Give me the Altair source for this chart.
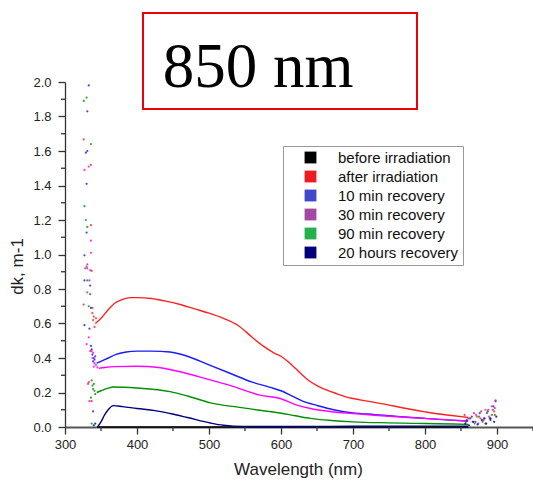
import altair as alt
import pandas as pd

# ---------------- data ----------------
SERIES = ["before irradiation", "after irradiation", "10 min recovery",
          "30 min recovery", "90 min recovery", "20 hours recovery"]
LEGEND_COLORS = ["#000000", "#ed1c24", "#3f48cc", "#a349a4", "#22b14c", "#00007f"]
CURVE_COLORS = ["#000000", "#ff2020", "#1a1aff", "#ff00ff", "#009000", "#000080"]

BEFORE_WL = [345, 400, 500, 600, 700, 800, 860]
BEFORE_DK = [0.0, 0.0, 0.0, 0.0, 0.0, 0.0, 0.0]

AFTER_WL = [342, 345, 350, 360, 370, 380, 390, 400, 420, 440, 460, 480, 500, 520, 540,
            560, 575, 590, 600, 610, 620, 630, 640, 650, 660, 673, 690, 700, 720, 747,
            770, 800, 820, 840, 860]
AFTER_DK = [0.60, 0.61, 0.63, 0.68, 0.72, 0.74, 0.75, 0.75, 0.745, 0.73, 0.71, 0.685, 0.66,
            0.63, 0.59, 0.52, 0.47, 0.43, 0.41, 0.378, 0.34, 0.30, 0.265, 0.24, 0.22, 0.20,
            0.175, 0.165, 0.15, 0.13, 0.11, 0.088, 0.075, 0.065, 0.055]

MIN10_WL = [344, 350, 360, 370, 385, 400, 420, 446, 470, 500, 530, 560, 585, 600, 615,
            630, 650, 673, 700, 730, 766, 800, 836, 860]
MIN10_DK = [0.37, 0.38, 0.40, 0.42, 0.435, 0.44, 0.44, 0.435, 0.41, 0.36, 0.31, 0.26,
            0.23, 0.21, 0.18, 0.15, 0.125, 0.10, 0.082, 0.072, 0.06, 0.05, 0.04, 0.035]

MIN30_WL = [347, 355, 370, 400, 430, 460, 500, 530, 571, 599, 620, 641, 673, 700, 730,
            766, 800, 836, 860]
MIN30_DK = [0.34, 0.345, 0.35, 0.352, 0.345, 0.32, 0.275, 0.24, 0.185, 0.165, 0.13,
            0.107, 0.087, 0.078, 0.068, 0.058, 0.05, 0.04, 0.035]

MIN90_WL = [344, 350, 360, 367, 400, 446, 470, 502, 540, 571, 599, 620, 641, 670, 700,
            750, 800, 840, 860]
MIN90_DK = [0.20, 0.21, 0.225, 0.232, 0.226, 0.205, 0.18, 0.14, 0.115, 0.097, 0.081,
            0.065, 0.05, 0.038, 0.03, 0.024, 0.02, 0.017, 0.015]

H20_WL = [345, 350, 355, 360, 367, 380, 400, 425, 446, 470, 502, 520, 534, 560, 600,
          700, 800, 860]
H20_DK = [0.0, 0.03, 0.07, 0.10, 0.124, 0.118, 0.107, 0.095, 0.078, 0.055, 0.023, 0.01,
          0.005, 0.003, 0.003, 0.004, 0.005, 0.005]

# scattered noisy points at both spectral ends
AFTER_NOISE_WL = [326, 336, 336, 331, 337, 326, 338, 335, 333, 337, 339, 340, 341, 338, 343,
                  855, 862, 868, 872, 878, 883, 888, 893, 897, 880]
AFTER_NOISE_DK = [1.667, 1.52, 1.17, 0.943, 0.905, 0.71, 0.69, 0.44, 0.26, 0.15, 0.62, 0.64,
                  0.58, 0.66, 0.63, 0.07, 0.05, 0.08, 0.06, 0.09, 0.05, 0.10, 0.07, 0.11, 0.03]
MIN10_NOISE_WL = [333, 331, 331, 329, 330, 330, 327, 327, 335, 336, 327, 334, 339, 337, 338,
                  340, 341, 342, 336, 339, 858, 865, 870, 876, 882, 887, 891, 895, 898, 884]
MIN10_NOISE_DK = [1.98, 1.83, 1.60, 1.59, 1.41, 1.127, 0.995, 0.85, 0.82, 0.69, 0.59, 0.57,
                  0.09, 0.45, 0.42, 0.40, 0.39, 0.41, 0.47, 0.38, 0.04, 0.06, 0.03, 0.08,
                  0.05, 0.09, 0.04, 0.12, 0.15, 0.02]
MIN30_NOISE_WL = [333, 327, 336, 336, 330, 328, 335, 334, 331, 333, 330, 337, 332, 334, 338,
                  339, 341, 343, 340, 345, 860, 866, 871, 877, 884, 889, 893, 896, 898, 874]
MIN30_NOISE_DK = [1.51, 1.49, 1.08, 1.01, 0.93, 0.92, 0.91, 0.85, 0.78, 0.52, 0.48, 0.44,
                  0.25, 0.15, 0.40, 0.43, 0.37, 0.36, 0.35, 0.345, 0.05, 0.03, 0.07, 0.05,
                  0.10, 0.06, 0.12, 0.09, 0.155, 0.02]
MIN90_NOISE_WL = [330, 326, 336, 327, 329, 331, 331, 331, 335, 333, 337, 338, 339, 340, 341,
                  342, 337, 336, 857, 863, 869, 875, 881, 886, 890, 894, 897]
MIN90_NOISE_DK = [1.91, 1.89, 1.64, 1.28, 1.20, 1.16, 0.92, 0.85, 0.77, 0.70, 0.27, 0.24,
                  0.22, 0.25, 0.21, 0.19, 0.02, 0.17, 0.03, 0.05, 0.02, 0.06, 0.04, 0.08,
                  0.05, 0.10, 0.07]
H20_NOISE_WL = [340, 342, 856, 861, 867, 873, 879, 885, 891, 896, 899]
H20_NOISE_DK = [0.01, 0.02, 0.02, 0.01, 0.03, 0.015, 0.04, 0.02, 0.05, 0.03, 0.06]

X_MAJOR = [300, 400, 500, 600, 700, 800, 900]
X_MINOR = [350, 450, 550, 650, 750, 850, 950]
Y_MAJOR = [0.0, 0.2, 0.4, 0.6, 0.8, 1.0, 1.2, 1.4, 1.6, 1.8, 2.0]
Y_MINOR = [0.1, 0.3, 0.5, 0.7, 0.9, 1.1, 1.3, 1.5, 1.7, 1.9]
TITLE_TEXT = "850 nm"

# ---------------- tables ----------------
def frame(i, wl, dk):
    return pd.DataFrame({"series": SERIES[i], "col": CURVE_COLORS[i], "wl": wl, "dk": dk})

curves = pd.concat([
    frame(0, BEFORE_WL, BEFORE_DK),
    frame(1, AFTER_WL, AFTER_DK),
    frame(2, MIN10_WL, MIN10_DK),
    frame(3, MIN30_WL, MIN30_DK),
    frame(4, MIN90_WL, MIN90_DK),
    frame(5, H20_WL, H20_DK),
], ignore_index=True)

noise = pd.concat([
    frame(1, AFTER_NOISE_WL, AFTER_NOISE_DK),
    frame(2, MIN10_NOISE_WL, MIN10_NOISE_DK),
    frame(3, MIN30_NOISE_WL, MIN30_NOISE_DK),
    frame(4, MIN90_NOISE_WL, MIN90_NOISE_DK),
    frame(5, H20_NOISE_WL, H20_NOISE_DK),
], ignore_index=True)

# legend carrier points: placed where the white title box covers them
legend_df = pd.DataFrame({"label": SERIES, "wl": [600] * 6, "dk": [1.95] * 6})

FONT = "Liberation Sans"
W, H = 468, 345

xscale = alt.Scale(domain=[300, 950], nice=False, zero=False)
yscale = alt.Scale(domain=[0, 2], nice=False)
legend_scale = alt.Scale(domain=SERIES, range=LEGEND_COLORS)

x_axis = alt.Axis(values=X_MAJOR, format="d", grid=False, tickSize=7, tickWidth=1.3,
                  tickColor="#333", domainColor="#555", domainWidth=2, labelFlush=False,
                  labelFont=FONT, labelFontSize=13, labelColor="#222", labelPadding=4,
                  title="Wavelength (nm)", titleFont=FONT, titleFontSize=17,
                  titleFontWeight="normal", titleColor="#222", titleX=233, titleY=42,
                  titleBaseline="middle")
y_axis = alt.Axis(values=Y_MAJOR, format=".1f", grid=False, tickSize=7, tickWidth=1.3,
                  tickColor="#333", domainColor="#333", domainWidth=1.3, labelFlush=False,
                  labelFont=FONT, labelFontSize=13, labelColor="#222", labelPadding=7,
                  title="dk, m-1", titleFont=FONT, titleFontSize=17,
                  titleFontWeight="normal", titleColor="#222", titleX=-48, titleY=184,
                  titleAngle=270, titleBaseline="middle", titleAlign="center")

X = alt.X("wl:Q", scale=xscale, axis=x_axis)
Y = alt.Y("dk:Q", scale=yscale, axis=y_axis)

lines = alt.Chart(curves).mark_line(strokeWidth=1.4, interpolate="monotone").encode(
    x=X, y=Y, stroke=alt.Stroke("col:N", scale=None), detail="series:N")

points = alt.Chart(noise).mark_circle(size=5, opacity=0.8).encode(
    x=X, y=Y, fill=alt.Fill("col:N", scale=None))

legend_layer = alt.Chart(legend_df).mark_square(size=4).encode(
    x=X, y=Y,
    color=alt.Color("label:N", scale=legend_scale, sort=SERIES,
                    legend=alt.Legend(title=None, orient="none", legendX=218, legendY=64,
                                      strokeColor="#999", fillColor="white", padding=4,
                                      symbolType="square", symbolSize=140, symbolOffset=16,
                                      symbolStrokeWidth=0, symbolOpacity=1, labelOffset=20,
                                      labelFont=FONT, labelFontSize=15, labelColor="#111",
                                      rowPadding=3)))

xminor = alt.Chart(pd.DataFrame({"wl": X_MINOR})).mark_rule(color="#333", strokeWidth=1.3).encode(
    x=X, y=alt.value(H), y2=alt.value(H + 4))
yminor = alt.Chart(pd.DataFrame({"dk": Y_MINOR})).mark_rule(color="#333", strokeWidth=1.3).encode(
    y=Y, x=alt.value(0), x2=alt.value(-4))

one = pd.DataFrame({"t": [TITLE_TEXT]})
box = alt.Chart(one).mark_rect(fill="white", stroke="#ee0000", strokeWidth=2).encode(
    x=alt.value(78), x2=alt.value(352), y=alt.value(-69), y2=alt.value(27))
title = alt.Chart(one).mark_text(font="Liberation Serif", fontSize=63, align="center",
                                 baseline="alphabetic", color="black").encode(
    text="t:N", x=alt.value(193), y=alt.value(5))

chart = alt.layer(lines, points, legend_layer, xminor, yminor, box, title).properties(
    width=W, height=H,
    autosize=alt.AutoSizeParams(type="none"),
    padding={"left": 65, "top": 82, "right": 0, "bottom": 54},
    background="white",
).configure_view(stroke=None)

chart.save("out.html", embed_options={"renderer": "svg", "actions": False})
